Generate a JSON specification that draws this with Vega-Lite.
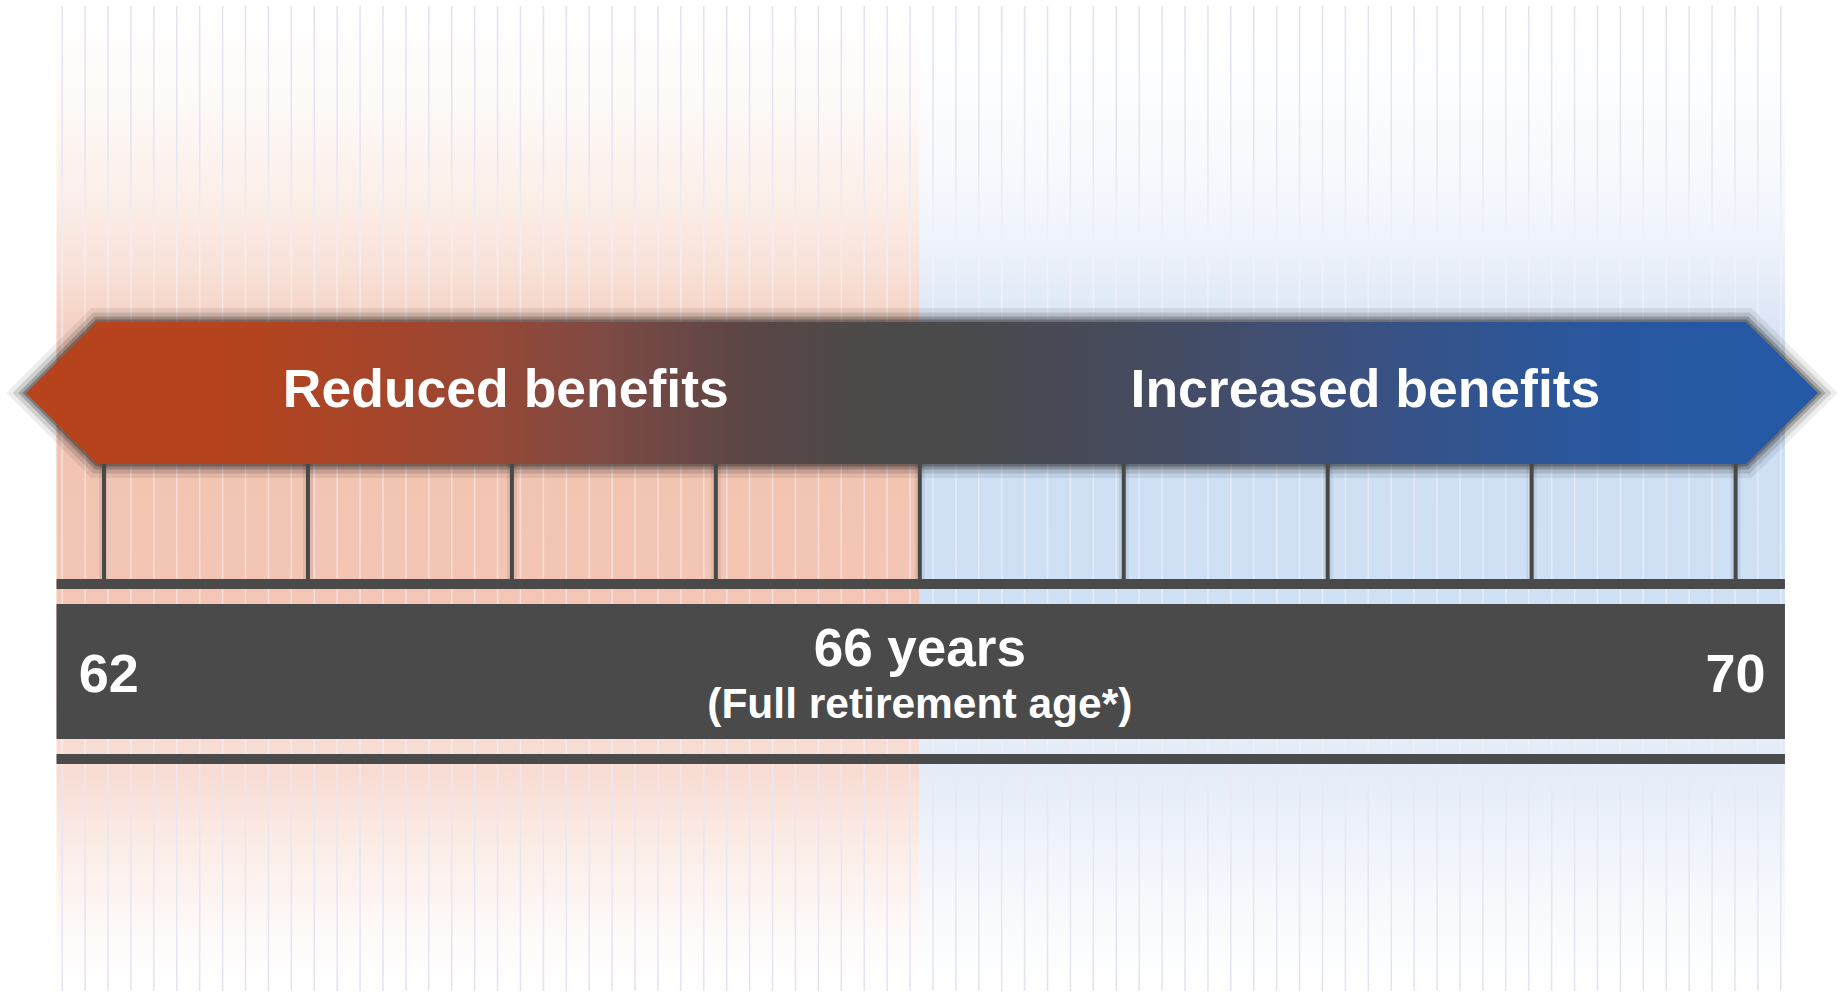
{
  "$schema": "https://vega.github.io/schema/vega-lite/v6.json",
  "width": 1839,
  "height": 994,
  "padding": 0,
  "autosize": {"type": "none"},
  "background": "#ffffff",
  "config": {"view": {"stroke": null}},
  "datasets": {
    "zones": [
      {"zone": "Reduced benefits", "from": 61.767, "to": 66},
      {"zone": "Increased benefits", "from": 66, "to": 70.242}
    ],
    "span": [{"from": 61.767, "to": 70.242}],
    "grid": [
      {"k": 0},{"k": 1},{"k": 2},{"k": 3},{"k": 4},{"k": 5},{"k": 6},{"k": 7},{"k": 8},{"k": 9},
      {"k": 10},{"k": 11},{"k": 12},{"k": 13},{"k": 14},{"k": 15},{"k": 16},{"k": 17},{"k": 18},{"k": 19},
      {"k": 20},{"k": 21},{"k": 22},{"k": 23},{"k": 24},{"k": 25},{"k": 26},{"k": 27},{"k": 28},{"k": 29},
      {"k": 30},{"k": 31},{"k": 32},{"k": 33},{"k": 34},{"k": 35},{"k": 36},{"k": 37},{"k": 38},{"k": 39},
      {"k": 40},{"k": 41},{"k": 42},{"k": 43},{"k": 44},{"k": 45},{"k": 46},{"k": 47},{"k": 48},{"k": 49},
      {"k": 50},{"k": 51},{"k": 52},{"k": 53},{"k": 54},{"k": 55},{"k": 56},{"k": 57},{"k": 58},{"k": 59},
      {"k": 60},{"k": 61},{"k": 62},{"k": 63},{"k": 64},{"k": 65},{"k": 66},{"k": 67},{"k": 68},{"k": 69},
      {"k": 70},{"k": 71},{"k": 72},{"k": 73},{"k": 74},{"k": 75}
    ],
    "arrow": [
      {"age": 61.6176, "top": 60.463, "bottom": 60.463},
      {"age": 61.9657, "top": 67.606, "bottom": 53.32},
      {"age": 70.0506, "top": 67.606, "bottom": 53.32},
      {"age": 70.4036, "top": 60.463, "bottom": 60.463}
    ],
    "ages": [
      {"age": 62},{"age": 63},{"age": 64},{"age": 65},{"age": 66},{"age": 67},{"age": 68},{"age": 69},{"age": 70}
    ],
    "headers": [
      {"age": 63.97, "label": "Reduced benefits"},
      {"age": 68.185, "label": "Increased benefits"}
    ],
    "ends": [
      {"age": 62.023, "label": "62"},
      {"age": 70, "label": "70"}
    ],
    "fra": [
      {"age": 66, "label": "66 years", "note": "(Full retirement age*)"}
    ]
  },
  "resolve": {"scale": {"x": "independent"}},
  "layer": [
    {
      "data": {"name": "zones"},
      "transform": [{"filter": "datum.zone === 'Reduced benefits'"}],
      "mark": {"type": "rect", "fill": {"gradient": "linear", "x1": 0, "y1": 0, "x2": 0, "y2": 1, "stops": [
        {"offset": 0, "color": "#ffffff"},
        {"offset": 0.095, "color": "#fefaf8"},
        {"offset": 0.197, "color": "#fbeee8"},
        {"offset": 0.268, "color": "#f8e1d8"},
        {"offset": 0.321, "color": "#f5d2c4"},
        {"offset": 0.38, "color": "#f2c3b1"},
        {"offset": 0.593, "color": "#f3c5b4"},
        {"offset": 0.755, "color": "#f8ddd4"},
        {"offset": 0.776, "color": "#f8dcd3"},
        {"offset": 0.857, "color": "#fbede8"},
        {"offset": 0.948, "color": "#fefbfa"},
        {"offset": 1, "color": "#ffffff"}
      ]}},
      "encoding": {
        "x": {"field": "from", "type": "quantitative", "axis": null, "scale": {"domain": [61.49, 70.507], "nice": false, "zero": false}},
        "x2": {"field": "to"},
        "y": {"datum": 99.4, "type": "quantitative", "axis": null, "scale": {"domain": [0, 100], "nice": false, "zero": false}},
        "y2": {"datum": 0.3}
      }
    },
    {
      "data": {"name": "zones"},
      "transform": [{"filter": "datum.zone === 'Increased benefits'"}],
      "mark": {"type": "rect", "fill": {"gradient": "linear", "x1": 0, "y1": 0, "x2": 0, "y2": 1, "stops": [
        {"offset": 0, "color": "#ffffff"},
        {"offset": 0.095, "color": "#fcfdff"},
        {"offset": 0.197, "color": "#f4f7fd"},
        {"offset": 0.268, "color": "#e9effa"},
        {"offset": 0.321, "color": "#dce6f6"},
        {"offset": 0.38, "color": "#cddff4"},
        {"offset": 0.593, "color": "#cfe0f4"},
        {"offset": 0.755, "color": "#e4ecf8"},
        {"offset": 0.776, "color": "#e5ecf8"},
        {"offset": 0.857, "color": "#f0f4fb"},
        {"offset": 0.948, "color": "#fbfcfe"},
        {"offset": 1, "color": "#ffffff"}
      ]}},
      "encoding": {
        "x": {"field": "from", "type": "quantitative", "axis": null, "scale": {"domain": [61.49, 70.507], "nice": false, "zero": false}},
        "x2": {"field": "to"},
        "y": {"datum": 99.4, "type": "quantitative", "axis": null, "scale": {"domain": [0, 100], "nice": false, "zero": false}},
        "y2": {"datum": 0.3}
      }
    },
    {
      "data": {"name": "grid"},
      "mark": {"type": "bar", "width": 1.5, "fill": {"gradient": "linear", "x1": 0, "y1": 0, "x2": 0, "y2": 1, "stops": [
        {"offset": 0, "color": "#e3e3f0"},
        {"offset": 0.15, "color": "#e6e4f0"},
        {"offset": 0.3, "color": "rgba(250,247,255,0.5)"},
        {"offset": 0.72, "color": "rgba(250,247,255,0.5)"},
        {"offset": 0.8, "color": "rgba(232,230,244,0.85)"},
        {"offset": 1, "color": "#e3e3f0"}
      ]}},
      "encoding": {
        "x": {"field": "k", "type": "quantitative", "axis": null, "scale": {"domain": [-2.4957, 77.322], "nice": false, "zero": false}},
        "y": {"datum": 99.4, "type": "quantitative", "axis": null, "scale": {"domain": [0, 100], "nice": false, "zero": false}},
        "y2": {"datum": 0.3}
      }
    },
    {
      "data": {"name": "arrow"},
      "mark": {"type": "area", "fill": "#000000", "fillOpacity": 0.0, "stroke": "#000000", "strokeWidth": 28, "strokeOpacity": 0.07, "strokeJoin": "miter"},
      "encoding": {
        "x": {"field": "age", "type": "quantitative", "axis": null, "scale": {"domain": [61.49, 70.507], "nice": false, "zero": false}},
        "y": {"field": "top", "type": "quantitative", "axis": null, "scale": {"domain": [0, 100], "nice": false, "zero": false}},
        "y2": {"field": "bottom"}
      }
    },
    {
      "data": {"name": "arrow"},
      "mark": {"type": "area", "fill": "#000000", "fillOpacity": 0.0, "stroke": "#000000", "strokeWidth": 19, "strokeOpacity": 0.12, "strokeJoin": "miter"},
      "encoding": {
        "x": {"field": "age", "type": "quantitative", "axis": null, "scale": {"domain": [61.49, 70.507], "nice": false, "zero": false}},
        "y": {"field": "top", "type": "quantitative", "axis": null, "scale": {"domain": [0, 100], "nice": false, "zero": false}},
        "y2": {"field": "bottom"}
      }
    },
    {
      "data": {"name": "arrow"},
      "mark": {"type": "area", "fill": "#000000", "fillOpacity": 0.0, "stroke": "#000000", "strokeWidth": 11, "strokeOpacity": 0.2, "strokeJoin": "miter"},
      "encoding": {
        "x": {"field": "age", "type": "quantitative", "axis": null, "scale": {"domain": [61.49, 70.507], "nice": false, "zero": false}},
        "y": {"field": "top", "type": "quantitative", "axis": null, "scale": {"domain": [0, 100], "nice": false, "zero": false}},
        "y2": {"field": "bottom"}
      }
    },
    {
      "data": {"name": "arrow"},
      "mark": {"type": "area", "fill": "#000000", "fillOpacity": 0.0, "stroke": "#000000", "strokeWidth": 5, "strokeOpacity": 0.25, "strokeJoin": "miter"},
      "encoding": {
        "x": {"field": "age", "type": "quantitative", "axis": null, "scale": {"domain": [61.49, 70.507], "nice": false, "zero": false}},
        "y": {"field": "top", "type": "quantitative", "axis": null, "scale": {"domain": [0, 100], "nice": false, "zero": false}},
        "y2": {"field": "bottom"}
      }
    },
    {
      "data": {"name": "arrow"},
      "mark": {"type": "area", "opacity": 1, "fill": {"gradient": "linear", "x1": 0, "y1": 0, "x2": 1, "y2": 0, "stops": [
        {"offset": 0, "color": "#b8431d"},
        {"offset": 0.125, "color": "#b4441f"},
        {"offset": 0.209, "color": "#a3452c"},
        {"offset": 0.265, "color": "#944837"},
        {"offset": 0.32, "color": "#7f4a44"},
        {"offset": 0.404, "color": "#5a4646"},
        {"offset": 0.477, "color": "#4b4a4a"},
        {"offset": 0.521, "color": "#4a4a4c"},
        {"offset": 0.61, "color": "#464b5c"},
        {"offset": 0.683, "color": "#424e6e"},
        {"offset": 0.75, "color": "#3a5182"},
        {"offset": 0.823, "color": "#2f5593"},
        {"offset": 0.89, "color": "#2857a0"},
        {"offset": 1, "color": "#2359a6"}
      ]}},
      "encoding": {
        "x": {"field": "age", "type": "quantitative", "axis": null, "scale": {"domain": [61.49, 70.507], "nice": false, "zero": false}},
        "y": {"field": "top", "type": "quantitative", "axis": null, "scale": {"domain": [0, 100], "nice": false, "zero": false}},
        "y2": {"field": "bottom"}
      }
    },
    {
      "data": {"name": "ages"},
      "mark": {"type": "rule", "color": "#000000", "strokeWidth": 10, "opacity": 0.07},
      "encoding": {
        "x": {"field": "age", "type": "quantitative", "axis": null, "scale": {"domain": [61.49, 70.507], "nice": false, "zero": false}},
        "y": {"datum": 53.32, "type": "quantitative", "axis": null, "scale": {"domain": [0, 100], "nice": false, "zero": false}},
        "y2": {"datum": 41.751}
      }
    },
    {
      "data": {"name": "ages"},
      "mark": {"type": "rule", "color": "#484848", "strokeWidth": 4},
      "encoding": {
        "x": {"field": "age", "type": "quantitative", "axis": null, "scale": {"domain": [61.49, 70.507], "nice": false, "zero": false}},
        "y": {"datum": 53.32, "type": "quantitative", "axis": null, "scale": {"domain": [0, 100], "nice": false, "zero": false}},
        "y2": {"datum": 41.751}
      }
    },
    {
      "data": {"name": "span"},
      "mark": {"type": "rect", "color": "#4a4a4a"},
      "encoding": {
        "x": {"field": "from", "type": "quantitative", "axis": null, "scale": {"domain": [61.49, 70.507], "nice": false, "zero": false}},
        "x2": {"field": "to"},
        "y": {"datum": 41.751, "type": "quantitative", "axis": null, "scale": {"domain": [0, 100], "nice": false, "zero": false}},
        "y2": {"datum": 40.744}
      }
    },
    {
      "data": {"name": "span"},
      "mark": {"type": "rect", "color": "#4a4a4a"},
      "encoding": {
        "x": {"field": "from", "type": "quantitative", "axis": null, "scale": {"domain": [61.49, 70.507], "nice": false, "zero": false}},
        "x2": {"field": "to"},
        "y": {"datum": 39.235, "type": "quantitative", "axis": null, "scale": {"domain": [0, 100], "nice": false, "zero": false}},
        "y2": {"datum": 25.654}
      }
    },
    {
      "data": {"name": "span"},
      "mark": {"type": "rect", "color": "#4a4a4a"},
      "encoding": {
        "x": {"field": "from", "type": "quantitative", "axis": null, "scale": {"domain": [61.49, 70.507], "nice": false, "zero": false}},
        "x2": {"field": "to"},
        "y": {"datum": 24.145, "type": "quantitative", "axis": null, "scale": {"domain": [0, 100], "nice": false, "zero": false}},
        "y2": {"datum": 23.139}
      }
    },
    {
      "data": {"name": "headers"},
      "mark": {"type": "text", "color": "#ffffff", "font": "Liberation Sans", "fontWeight": "bold", "fontSize": 53.5, "align": "center", "baseline": "alphabetic"},
      "encoding": {
        "x": {"field": "age", "type": "quantitative", "axis": null, "scale": {"domain": [61.49, 70.507], "nice": false, "zero": false}},
        "y": {"datum": 59.054, "type": "quantitative", "axis": null, "scale": {"domain": [0, 100], "nice": false, "zero": false}},
        "text": {"field": "label"}
      }
    },
    {
      "data": {"name": "ends"},
      "mark": {"type": "text", "color": "#ffffff", "font": "Liberation Sans", "fontWeight": "bold", "fontSize": 54, "align": "center", "baseline": "alphabetic"},
      "encoding": {
        "x": {"field": "age", "type": "quantitative", "axis": null, "scale": {"domain": [61.49, 70.507], "nice": false, "zero": false}},
        "y": {"datum": 30.382, "type": "quantitative", "axis": null, "scale": {"domain": [0, 100], "nice": false, "zero": false}},
        "text": {"field": "label"}
      }
    },
    {
      "data": {"name": "fra"},
      "mark": {"type": "text", "color": "#ffffff", "font": "Liberation Sans", "fontWeight": "bold", "fontSize": 53, "align": "center", "baseline": "alphabetic"},
      "encoding": {
        "x": {"field": "age", "type": "quantitative", "axis": null, "scale": {"domain": [61.49, 70.507], "nice": false, "zero": false}},
        "y": {"datum": 32.998, "type": "quantitative", "axis": null, "scale": {"domain": [0, 100], "nice": false, "zero": false}},
        "text": {"field": "label"}
      }
    },
    {
      "data": {"name": "fra"},
      "mark": {"type": "text", "color": "#ffffff", "font": "Liberation Sans", "fontWeight": "bold", "fontSize": 42.5, "align": "center", "baseline": "alphabetic"},
      "encoding": {
        "x": {"field": "age", "type": "quantitative", "axis": null, "scale": {"domain": [61.49, 70.507], "nice": false, "zero": false}},
        "y": {"datum": 27.767, "type": "quantitative", "axis": null, "scale": {"domain": [0, 100], "nice": false, "zero": false}},
        "text": {"field": "note"}
      }
    }
  ]
}
